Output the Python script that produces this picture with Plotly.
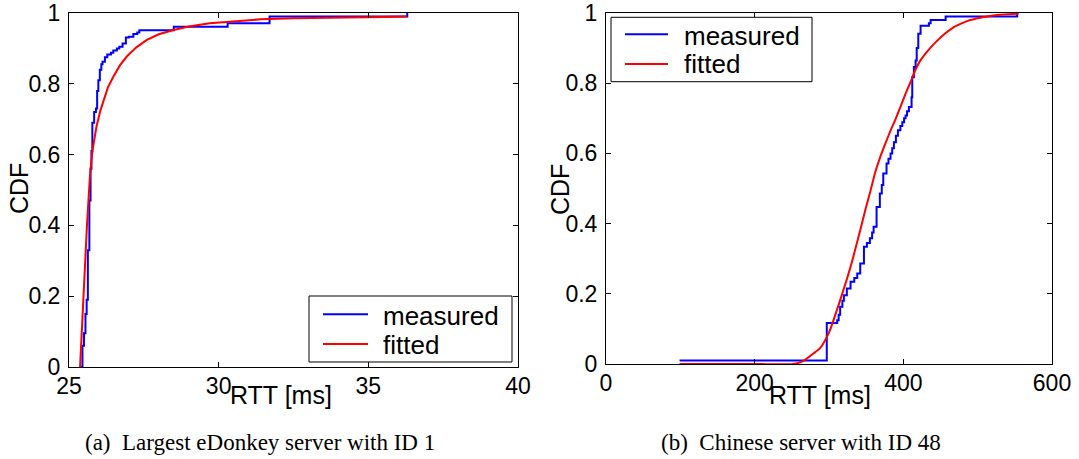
import plotly.graph_objects as go

# ---------------- data ----------------
# (a) Largest eDonkey server with ID 1
a_meas_rtt = [25.39, 25.45, 25.50, 25.55, 25.59, 25.63, 25.68, 25.72, 25.75, 25.78,
              25.84, 25.90, 25.94, 25.98, 26.03, 26.08, 26.12, 26.20, 26.28, 26.40,
              26.48, 26.60, 26.68, 26.79, 26.90, 27.00, 27.15, 27.28, 27.35, 28.50,
              30.30, 31.70, 36.30]
a_meas_cdf = [0.0, 0.06, 0.095, 0.15, 0.19, 0.33, 0.47, 0.56, 0.61, 0.69,
              0.72, 0.73, 0.78, 0.81, 0.84, 0.855, 0.862, 0.875, 0.883, 0.888,
              0.894, 0.90, 0.905, 0.914, 0.931, 0.933, 0.941, 0.945, 0.951, 0.961,
              0.971, 0.99, 1.0]
a_fit_rtt = [25.37, 25.42, 25.48, 25.53, 25.60, 25.65, 25.70, 25.78, 25.92, 26.05,
             26.15, 26.30, 26.48, 26.70, 26.93, 27.25, 27.60, 28.00, 28.49, 29.00,
             29.70, 30.50, 31.40, 32.50, 33.50, 34.50, 35.50, 36.30]
a_fit_cdf = [0.0, 0.095, 0.19, 0.28, 0.40, 0.47, 0.54, 0.61, 0.68, 0.725,
             0.754, 0.79, 0.82, 0.852, 0.877, 0.903, 0.924, 0.94, 0.952, 0.962,
             0.971, 0.977, 0.982, 0.985, 0.987, 0.988, 0.989, 0.99]

# (b) Chinese server with ID 48
b_meas_rtt = [99, 297, 311, 313, 315, 318, 320, 324, 329, 334, 338, 342, 347, 351,
              355, 358, 360, 364, 368.4, 371, 373, 377.4, 380, 382.8, 385, 387.3,
              390, 392.7, 396, 398.6, 401, 403, 405, 407.5, 411.1, 412, 414.2,
              416.5, 418, 420.1, 423.2, 434.4, 436.7, 456.9, 553.2]
b_meas_cdf = [0.01, 0.117, 0.125, 0.14, 0.163, 0.18, 0.196, 0.215, 0.234, 0.245,
              0.258, 0.286, 0.334, 0.345, 0.358, 0.375, 0.391, 0.447, 0.486, 0.51,
              0.543, 0.571, 0.585, 0.60, 0.615, 0.632, 0.65, 0.666, 0.678, 0.689,
              0.70, 0.708, 0.72, 0.732, 0.76, 0.817, 0.846, 0.865, 0.90, 0.941,
              0.964, 0.971, 0.98, 0.99, 1.0]
b_fit_rtt = [99, 200, 252, 265, 279, 288, 300, 315, 329, 342, 349, 356, 362, 369,
             376, 383, 390, 396, 403, 410, 416, 423, 436, 446, 457, 468, 480, 490,
             502, 513, 530, 555]
b_fit_cdf = [0.0, 0.0, 0.0, 0.008, 0.03, 0.045, 0.09, 0.182, 0.277, 0.381, 0.44,
             0.495, 0.545, 0.59, 0.629, 0.666, 0.70, 0.732, 0.77, 0.805, 0.837,
             0.865, 0.90, 0.922, 0.943, 0.96, 0.972, 0.98, 0.986, 0.99, 0.995,
             0.998]

x_ticks_a = [25, 30, 35, 40]
x_ticks_b = [0, 200, 400, 600]
y_ticks = [0, 0.2, 0.4, 0.6, 0.8, 1]
y_tick_text = ["0", "0.2", "0.4", "0.6", "0.8", "1"]

series_names = ["measured", "fitted"]
captions = ["(a)\u00a0\u00a0Largest eDonkey server with ID 1",
            "(b)\u00a0\u00a0Chinese server with ID 48"]

# ---------------- figure ----------------
W, H = 1079, 459
BLUE, RED = "#0000ff", "#ff0000"
SANS = "Liberation Sans, Arial, sans-serif"
SERIF = "Liberation Serif, Times New Roman, serif"


def px_x(p):
    return p / W


def px_y(p):
    return 1 - p / H


fig = go.Figure()
fig.add_trace(go.Scatter(x=a_meas_rtt, y=a_meas_cdf, mode="lines", line_shape="hv",
                         line=dict(color=BLUE, width=2), name=series_names[0],
                         xaxis="x", yaxis="y"))
fig.add_trace(go.Scatter(x=a_fit_rtt, y=a_fit_cdf, mode="lines",
                         line=dict(color=RED, width=2), name=series_names[1],
                         xaxis="x", yaxis="y"))
fig.add_trace(go.Scatter(x=b_meas_rtt, y=b_meas_cdf, mode="lines", line_shape="hv",
                         line=dict(color=BLUE, width=2), name=series_names[0],
                         xaxis="x2", yaxis="y2"))
fig.add_trace(go.Scatter(x=b_fit_rtt, y=b_fit_cdf, mode="lines", line_shape="spline",
                         line=dict(color=RED, width=2, smoothing=0.6),
                         name=series_names[1], xaxis="x2", yaxis="y2"))

axis_common = dict(showgrid=False, zeroline=False, showline=True, linecolor="black",
                   linewidth=1, mirror="ticks", ticks="inside", ticklen=5,
                   tickcolor="black", tickwidth=1, automargin=False,
                   ticklabeloverflow="allow",
                   tickfont=dict(family=SANS, size=23, color="black"))

fig.update_layout(
    width=W, height=H,
    margin=dict(l=0, r=0, t=0, b=0, pad=0, autoexpand=False),
    paper_bgcolor="white", plot_bgcolor="white",
    showlegend=False,
    xaxis=dict(domain=[px_x(69), px_x(518)], range=[25, 40], tickvals=x_ticks_a,
               anchor="y", ticklabelstandoff=-2, **axis_common),
    yaxis=dict(domain=[px_y(367), px_y(13)], range=[0, 1], tickvals=y_ticks,
               ticktext=y_tick_text, anchor="x", ticklabelstandoff=3, **axis_common),
    xaxis2=dict(domain=[px_x(606), px_x(1052)], range=[0, 600], tickvals=x_ticks_b,
                anchor="y2", ticklabelstandoff=-2, **axis_common),
    yaxis2=dict(domain=[px_y(364), px_y(13)], range=[0, 1], tickvals=y_ticks,
                ticktext=y_tick_text, anchor="x2", ticklabelstandoff=3, **axis_common),
)

# legend boxes (drawn as the reference's boxed legends)
legend_specs = [
    dict(box=(309, 512, 296, 362), lx=(323, 368), ly=(314.3, 344), tx=381,
         ty=(316, 345)),
    dict(box=(611, 812, 17.3, 81.7), lx=(625, 668), ly=(34.3, 64), tx=682,
         ty=(36, 64.5)),
]
shapes = []
annotations = []
for spec in legend_specs:
    bx0, bx1, by0, by1 = spec["box"]
    shapes.append(dict(type="rect", xref="paper", yref="paper",
                       x0=px_x(bx0), x1=px_x(bx1), y0=px_y(by1), y1=px_y(by0),
                       line=dict(color="black", width=1), fillcolor="white",
                       layer="above"))
    for name, color, ly, ty in zip(series_names, [BLUE, RED], spec["ly"], spec["ty"]):
        shapes.append(dict(type="line", xref="paper", yref="paper",
                           x0=px_x(spec["lx"][0]), x1=px_x(spec["lx"][1]),
                           y0=px_y(ly), y1=px_y(ly),
                           line=dict(color=color, width=2), layer="above"))
        annotations.append(dict(text=name, x=px_x(spec["tx"]), y=px_y(ty),
                                xref="paper", yref="paper", showarrow=False,
                                xanchor="left", yanchor="middle",
                                font=dict(family=SANS, size=26, color="black")))

ann_font = dict(family=SANS, size=25, color="black")
annotations += [
    dict(text="RTT [ms]", x=px_x(281), y=px_y(395), xref="paper", yref="paper",
         showarrow=False, font=ann_font, xanchor="center", yanchor="middle"),
    dict(text="RTT [ms]", x=px_x(820), y=px_y(395), xref="paper", yref="paper",
         showarrow=False, font=ann_font, xanchor="center", yanchor="middle"),
    dict(text="CDF", x=px_x(19), y=px_y(189), xref="paper", yref="paper",
         showarrow=False, font=ann_font, textangle=-90, xanchor="center", yanchor="middle"),
    dict(text="CDF", x=px_x(560), y=px_y(189), xref="paper", yref="paper",
         showarrow=False, font=ann_font, textangle=-90, xanchor="center", yanchor="middle"),
    dict(text=captions[0], x=px_x(260), y=px_y(442), xref="paper", yref="paper",
         showarrow=False, font=dict(family=SERIF, size=23, color="black"),
         xanchor="center", yanchor="middle"),
    dict(text=captions[1], x=px_x(801), y=px_y(442), xref="paper", yref="paper",
         showarrow=False, font=dict(family=SERIF, size=23, color="black"),
         xanchor="center", yanchor="middle"),
]
fig.update_layout(shapes=shapes, annotations=annotations)

fig.write_html("out.html",
               config={"displayModeBar": False},
               post_script="document.body.style.margin='0';"
                           "document.body.style.overflow='hidden';")
